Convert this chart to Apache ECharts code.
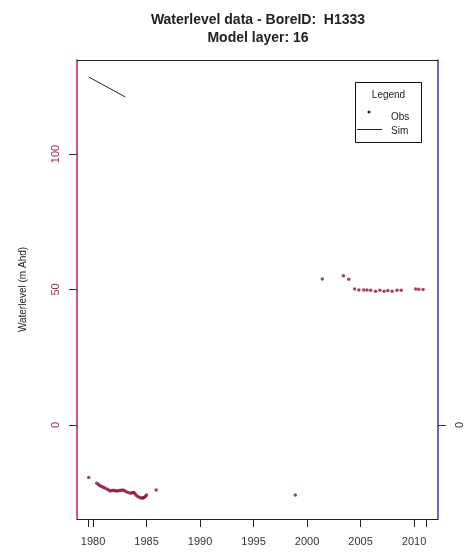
<!DOCTYPE html>
<html>
<head>
<meta charset="utf-8">
<script src="https://cdn.jsdelivr.net/npm/echarts@6/dist/echarts.min.js"></script>
<style>
html,body{margin:0;padding:0;background:#fff;}
#chart{width:468px;height:556px;}
</style>
</head>
<body>
<div id="chart"></div>
<script>
// ---- data ----
const obsYears = [1979.6,1980.35,1980.5,1980.65,1980.8,1980.96,1981.1,1981.3,1981.45,1981.6,1981.75,1981.9,1982.05,1982.2,1982.35,1982.5,1982.65,1982.8,1982.95,1983.1,1983.3,1983.5,1983.65,1983.8,1983.9,1984.0,1984.15,1984.3,1984.45,1984.6,1984.7,1984.8,1984.9,1985.0,1985.9,1998.9,
  2001.43,2003.4,2003.9,2004.45,2004.85,2005.3,2005.6,2005.95,2006.4,2006.8,2007.2,2007.55,2007.95,2008.4,2008.8,2010.15,2010.45,2010.85];
const obsLevels = [-19.4,-21.5,-22.0,-22.4,-22.7,-23.0,-23.3,-23.6,-24.0,-24.4,-24.2,-24.1,-24.3,-24.4,-24.3,-24.2,-24.1,-24.0,-24.3,-24.6,-24.9,-25.2,-25.0,-24.8,-25.3,-25.8,-26.3,-26.7,-26.9,-27.0,-26.9,-26.7,-26.3,-25.8,-24.0,-25.8,
  53.9,55.1,53.8,50.2,49.8,49.8,49.8,49.7,49.4,49.7,49.4,49.6,49.4,49.7,49.7,50.2,50.1,50.0];
const simYears = [1979.6,1983.0];
const simLevels = [128.4,121.1];
const xTickLabels = [1980,1985,1990,1995,2000,2005,2010];
const xTickExtra = [1979.55,2011.1];
const yTickLabels = [0,50,100];
const yRightTicks = [0];
const titleLine1 = 'Waterlevel data - BoreID:  H1333';
const titleLine2 = 'Model layer: 16';
const legendTitle = 'Legend';
const legendNames = ['Obs','Sim'];

const obsData = obsYears.map((x,i)=>[x,obsLevels[i]]);
const simData = simYears.map((x,i)=>[x,simLevels[i]]);

const FONT = 'Liberation Sans, Arial, sans-serif';
const chart = echarts.init(document.getElementById('chart'), null, {renderer:'canvas'});
chart.setOption({
  animation:false,
  backgroundColor:'#fff',
  title:{
    text: titleLine1 + '\n' + titleLine2,
    left: 253, top: 6, textAlign:'center',
    textStyle:{fontFamily:FONT,fontSize:14,fontWeight:'bold',color:'#222',lineHeight:18}
  },
  grid:{left:77,right:30,top:60,bottom:37,show:false},
  graphic:[
    {type:'rect',shape:{x:355.5,y:82.5,width:66,height:60},style:{fill:'#fff',stroke:'#111',lineWidth:1},z:100},
    {type:'text',x:388.5,y:95,style:{text:legendTitle,font:'10px '+FONT,fill:'#222',align:'center',verticalAlign:'middle'},z:101},
    {type:'circle',shape:{cx:369,cy:112,r:1.5},style:{fill:'#222'},z:101},
    {type:'text',x:391,y:117,style:{text:legendNames[0],font:'10px '+FONT,fill:'#222',align:'left',verticalAlign:'middle'},z:101},
    {type:'line',shape:{x1:357,y1:129.5,x2:382,y2:129.5},style:{stroke:'#222',lineWidth:1},z:101},
    {type:'text',x:391,y:131,style:{text:legendNames[1],font:'10px '+FONT,fill:'#222',align:'left',verticalAlign:'middle'},z:101}
  ],
  xAxis:[{
    type:'value', min:1978.5, max:2012.24, position:'bottom',
    axisLine:{show:true,onZero:false,lineStyle:{color:'#222',width:1}},
    axisTick:{show:true,length:8,lineStyle:{color:'#222'},customValues:[xTickExtra[0]].concat(xTickLabels,[xTickExtra[1]])},
    axisLabel:{fontFamily:FONT,fontSize:11,color:'#333',margin:17,customValues:xTickLabels,formatter:v=>String(v)},
    splitLine:{show:false}
  },{
    type:'value', min:1978.5, max:2012.24, position:'top',
    axisLine:{show:true,onZero:false,lineStyle:{color:'#222',width:1}},
    axisTick:{show:false}, axisLabel:{show:false}, splitLine:{show:false}
  }],
  yAxis:[{
    type:'value', min:-34.7, max:134.7, position:'left',
    name:'Waterlevel (m Ahd)', nameLocation:'middle', nameGap:49, nameRotate:90,
    nameTextStyle:{fontFamily:FONT,fontSize:10,color:'#222'},
    axisLine:{show:true,onZero:false,lineStyle:{color:'#b8204f',width:1.5}},
    axisTick:{show:true,length:8,lineStyle:{color:'#333'},customValues:yTickLabels},
    axisLabel:{rotate:90,fontFamily:FONT,fontSize:11,color:'#a03050',margin:16,customValues:yTickLabels},
    splitLine:{show:false}
  },{
    type:'value', min:-34.7, max:134.7, position:'right',
    axisLine:{show:true,onZero:false,lineStyle:{color:'#3a3a9c',width:1.5}},
    axisTick:{show:true,length:8,lineStyle:{color:'#333'},customValues:yRightTicks},
    axisLabel:{rotate:90,fontFamily:FONT,fontSize:11,color:'#333',margin:16,customValues:yRightTicks},
    splitLine:{show:false}
  }],
  series:[{
    name:'Obs', type:'scatter', data:obsData, symbol:'circle', symbolSize:3.5,
    itemStyle:{color:'#8c1538'}
  },{
    name:'Sim', type:'line', data:simData, symbol:'none',
    lineStyle:{color:'#222',width:1}
  }]
});
</script>
</body>
</html>
